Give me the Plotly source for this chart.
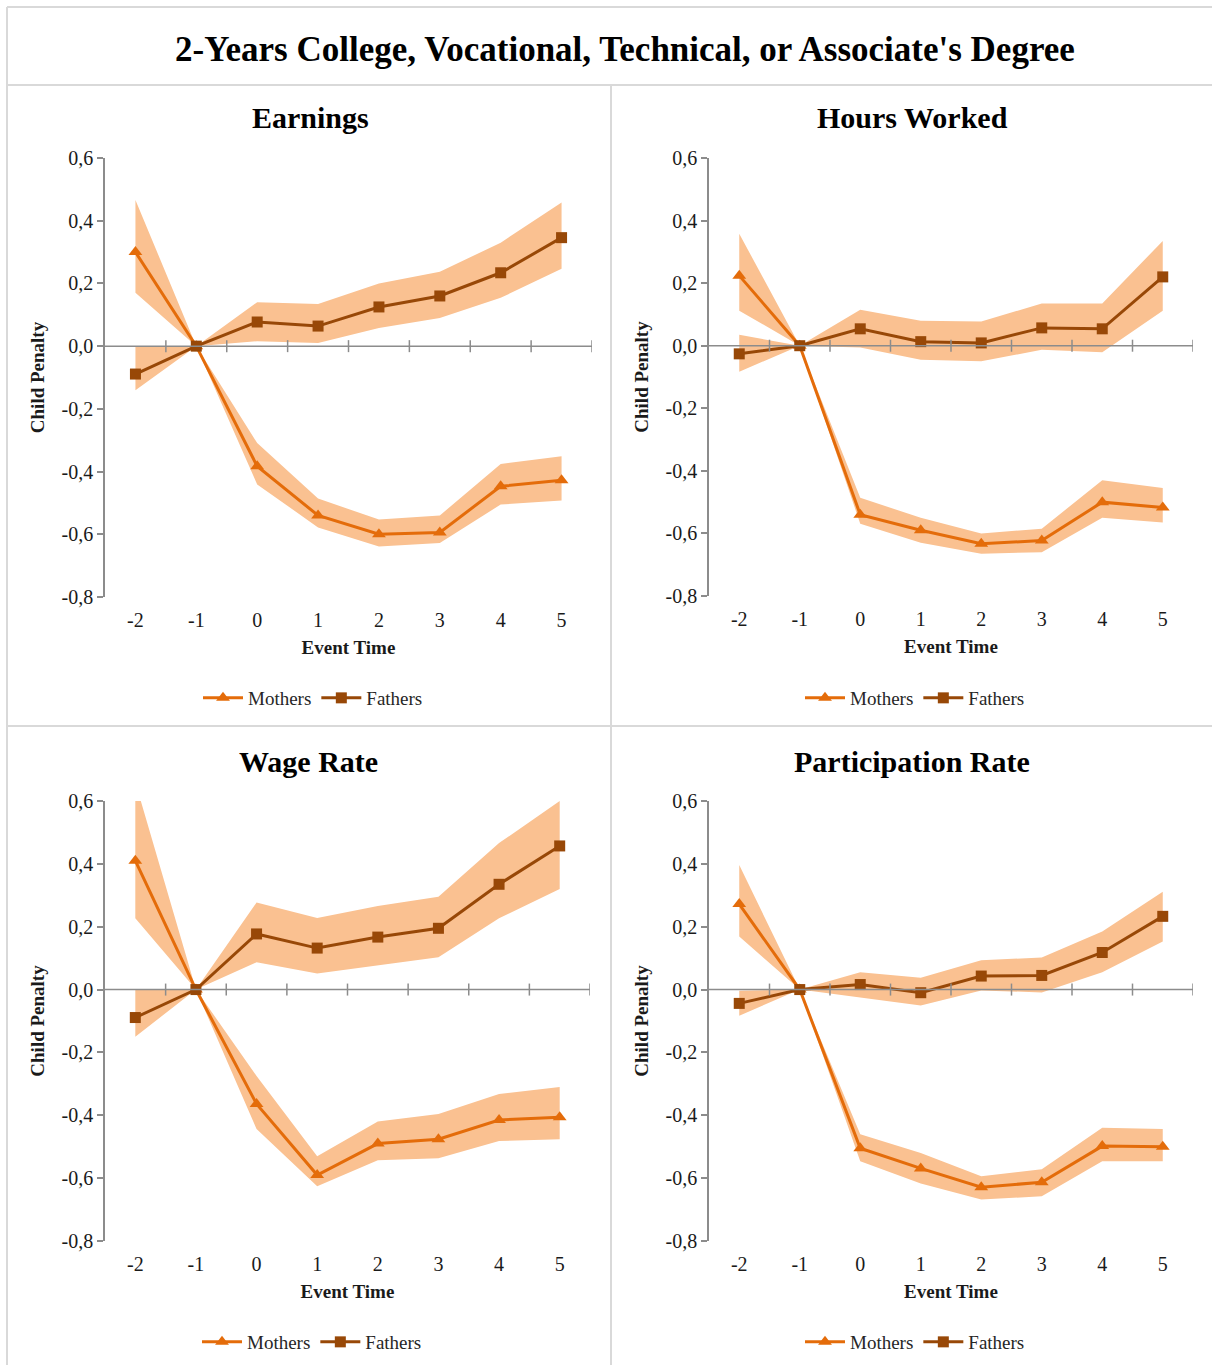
import plotly.graph_objects as go

# ---------------- data ----------------
event_time = [-2, -1, 0, 1, 2, 3, 4, 5]
panel_titles = ["Earnings", "Hours Worked", "Wage Rate", "Participation Rate"]
main_title = "2-Years College, Vocational, Technical, or Associate's Degree"
y_ticks = [-0.8, -0.6, -0.4, -0.2, 0.0, 0.2, 0.4, 0.6]

# Earnings
earn_mothers = [0.30, 0.0, -0.383, -0.54, -0.60, -0.594, -0.447, -0.428]
earn_mothers_hi = [0.466, 0.0, -0.309, -0.486, -0.553, -0.54, -0.376, -0.351]
earn_mothers_lo = [0.17, 0.0, -0.441, -0.578, -0.639, -0.628, -0.505, -0.492]
earn_fathers = [-0.089, 0.0, 0.077, 0.064, 0.125, 0.16, 0.234, 0.346]
earn_fathers_hi = [0.0, 0.0, 0.14, 0.134, 0.20, 0.237, 0.33, 0.458]
earn_fathers_lo = [-0.141, 0.0, 0.016, 0.01, 0.058, 0.09, 0.154, 0.247]

# Hours worked
hours_mothers = [0.224, 0.0, -0.54, -0.59, -0.633, -0.623, -0.50, -0.517]
hours_mothers_hi = [0.358, 0.0, -0.486, -0.55, -0.60, -0.585, -0.43, -0.455]
hours_mothers_lo = [0.112, 0.0, -0.569, -0.63, -0.665, -0.66, -0.55, -0.565]
hours_fathers = [-0.026, 0.0, 0.054, 0.013, 0.009, 0.057, 0.054, 0.22]
hours_fathers_hi = [0.035, 0.0, 0.115, 0.08, 0.077, 0.135, 0.135, 0.335]
hours_fathers_lo = [-0.083, 0.0, -0.006, -0.045, -0.05, -0.013, -0.021, 0.112]

# Wage rate
wage_mothers = [0.41, 0.0, -0.364, -0.59, -0.49, -0.476, -0.415, -0.406]
wage_mothers_hi = [0.66, 0.0, -0.275, -0.53, -0.42, -0.396, -0.332, -0.31]
wage_mothers_lo = [0.227, 0.0, -0.444, -0.626, -0.543, -0.537, -0.482, -0.476]
wage_fathers = [-0.089, 0.0, 0.177, 0.132, 0.167, 0.195, 0.335, 0.457]
wage_fathers_hi = [0.0, 0.0, 0.277, 0.228, 0.266, 0.295, 0.466, 0.60]
wage_fathers_lo = [-0.15, 0.0, 0.087, 0.051, 0.077, 0.103, 0.227, 0.32]

# Participation rate
part_mothers = [0.272, 0.0, -0.505, -0.569, -0.629, -0.613, -0.498, -0.50]
part_mothers_hi = [0.396, 0.0, -0.46, -0.52, -0.594, -0.572, -0.44, -0.444]
part_mothers_lo = [0.169, 0.0, -0.546, -0.617, -0.668, -0.658, -0.546, -0.546]
part_fathers = [-0.044, 0.0, 0.016, -0.01, 0.043, 0.045, 0.118, 0.233]
part_fathers_hi = [-0.004, 0.0, 0.055, 0.038, 0.093, 0.102, 0.185, 0.311]
part_fathers_lo = [-0.083, 0.0, -0.025, -0.051, -0.003, -0.009, 0.055, 0.153]

series = [
    (earn_mothers, earn_mothers_lo, earn_mothers_hi, earn_fathers, earn_fathers_lo, earn_fathers_hi),
    (hours_mothers, hours_mothers_lo, hours_mothers_hi, hours_fathers, hours_fathers_lo, hours_fathers_hi),
    (wage_mothers, wage_mothers_lo, wage_mothers_hi, wage_fathers, wage_fathers_lo, wage_fathers_hi),
    (part_mothers, part_mothers_lo, part_mothers_hi, part_fathers, part_fathers_lo, part_fathers_hi),
]

# ---------------- styling ----------------
W, H = 1212, 1365
FONT = "Liberation Serif, Times New Roman, serif"
C_MOTHER = "#E46C0A"
C_FATHER = "#984807"
C_BAND = "#FAC191"
C_AXIS = "#8C8C8C"
C_BORDER = "#D9D9D9"
C_TEXT = "#1A1A1A"

# plot areas in pixels: (x0, x1, ytop, ybottom)
areas = [
    (105, 592, 158, 597),
    (709, 1193, 158, 596),
    (105, 590, 801, 1241),
    (709, 1193, 801, 1241),
]
title_pos = [(310, 117), (912, 117), (308, 761), (912, 761)]
legend_pos = [(313, 698), (915, 698), (312, 1342), (915, 1342)]

def px(x):
    return x / W

def py(y):
    return 1 - y / H

fig = go.Figure()
layout = dict(
    width=W, height=H,
    margin=dict(l=0, r=0, t=0, b=0, autoexpand=False),
    paper_bgcolor="white", plot_bgcolor="white",
    font=dict(family=FONT, color=C_TEXT),
    showlegend=True,
)
shapes = []
annotations = []
ymin, ymax = -0.8, 0.6
xmin, xmax = -2.5, 5.5

for i, (m, mlo, mhi, f, flo, fhi) in enumerate(series):
    n = i + 1
    xa = "x" if n == 1 else f"x{n}"
    ya = "y" if n == 1 else f"y{n}"
    leg = "legend" if n == 1 else f"legend{n}"

    # bands
    for lo, hi in ((mlo, mhi), (flo, fhi)):
        fig.add_trace(go.Scatter(
            x=event_time + event_time[::-1], y=hi + lo[::-1],
            fill="toself", fillcolor=C_BAND, line=dict(width=0),
            mode="lines", hoverinfo="skip", showlegend=False,
            xaxis=xa, yaxis=ya, legend=leg))
    # lines
    fig.add_trace(go.Scatter(
        x=event_time, y=m, name="Mothers", mode="lines+markers",
        line=dict(color=C_MOTHER, width=3),
        marker=dict(symbol="triangle-up", size=12, color=C_MOTHER),
        xaxis=xa, yaxis=ya, legend=leg))
    fig.add_trace(go.Scatter(
        x=event_time, y=f, name="Fathers", mode="lines+markers",
        line=dict(color=C_FATHER, width=3),
        marker=dict(symbol="square", size=11, color=C_FATHER),
        xaxis=xa, yaxis=ya, legend=leg))

    x0, x1, yt, yb = areas[i]
    xkey = "xaxis" if n == 1 else f"xaxis{n}"
    ykey = "yaxis" if n == 1 else f"yaxis{n}"
    layout[xkey] = dict(
        domain=[px(x0), px(x1)], anchor=ya, range=[xmin, xmax],
        showline=False, zeroline=False, showgrid=False,
        tickmode="array", tickvals=event_time, ticktext=[str(v) for v in event_time],
        ticks="outside", ticklen=5, tickcolor="rgba(0,0,0,0)",
        tickfont=dict(family=FONT, size=20, color=C_TEXT),
        title=dict(text="<b>Event Time</b>", font=dict(family=FONT, size=19, color=C_TEXT), standoff=10),
        fixedrange=True, automargin=False,
    )
    layout[ykey] = dict(
        domain=[py(yb), py(yt)], anchor=xa, range=[ymin, ymax],
        showline=True, linecolor=C_AXIS, linewidth=1.5,
        zeroline=False, showgrid=False,
        tickmode="array", tickvals=y_ticks,
        ticktext=[f"{v:.1f}".replace(".", ",") for v in y_ticks],
        ticks="outside", ticklen=6, tickcolor=C_AXIS, tickwidth=1.5,
        tickfont=dict(family=FONT, size=20, color=C_TEXT),
        title=dict(text="<b>Child Penalty</b>", font=dict(family=FONT, size=19, color=C_TEXT), standoff=12),
        fixedrange=True, automargin=False,
    )
    # horizontal axis at zero with crossing tick marks
    shapes.append(dict(type="line", xref=xa, yref=ya, x0=xmin, x1=xmax, y0=0, y1=0,
                       line=dict(color=C_AXIS, width=1.5), layer="above"))
    tick_mid = [(a + b) / 2 for a, b in zip(event_time[:-1], event_time[1:])] + [event_time[-1] + 0.5]
    for tv in tick_mid:
        shapes.append(dict(type="line", xref=xa, yref=ya, ysizemode="pixel", yanchor=0,
                           x0=tv, x1=tv, y0=-6, y1=6,
                           line=dict(color=C_AXIS, width=1.5), layer="above"))
    # panel title
    tx, ty = title_pos[i]
    annotations.append(dict(text=f"<b>{panel_titles[i]}</b>", x=px(tx), y=py(ty),
                            xref="paper", yref="paper", xanchor="center", yanchor="middle",
                            showarrow=False, font=dict(family=FONT, size=30, color="#000000")))
    lx, ly = legend_pos[i]
    layout[leg] = dict(orientation="h", x=px(lx), y=py(ly), xanchor="center", yanchor="middle",
                       font=dict(family=FONT, size=19, color="#262626"),
                       bgcolor="rgba(0,0,0,0)", itemwidth=40, tracegroupgap=0)

# main title
annotations.append(dict(text=f"<b>{main_title}</b>", x=px(625), y=py(50),
                        xref="paper", yref="paper", xanchor="center", yanchor="middle",
                        showarrow=False, font=dict(family=FONT, size=35, color="#000000")))

# borders
for (a, b, c, d) in [(7, 7, 1212, 7), (7, 7, 7, 1365), (7, 85, 1212, 85), (7, 726, 1212, 726), (611, 85, 611, 1365)]:
    shapes.append(dict(type="line", xref="paper", yref="paper",
                       x0=px(a), y0=py(b), x1=px(c), y1=py(d),
                       line=dict(color=C_BORDER, width=2), layer="below"))

layout["shapes"] = shapes
layout["annotations"] = annotations
fig.update_layout(**layout)
fig.write_html("out.html", config={"displayModeBar": False},
               post_script="document.body.style.margin='0';document.body.style.overflow='hidden';")
